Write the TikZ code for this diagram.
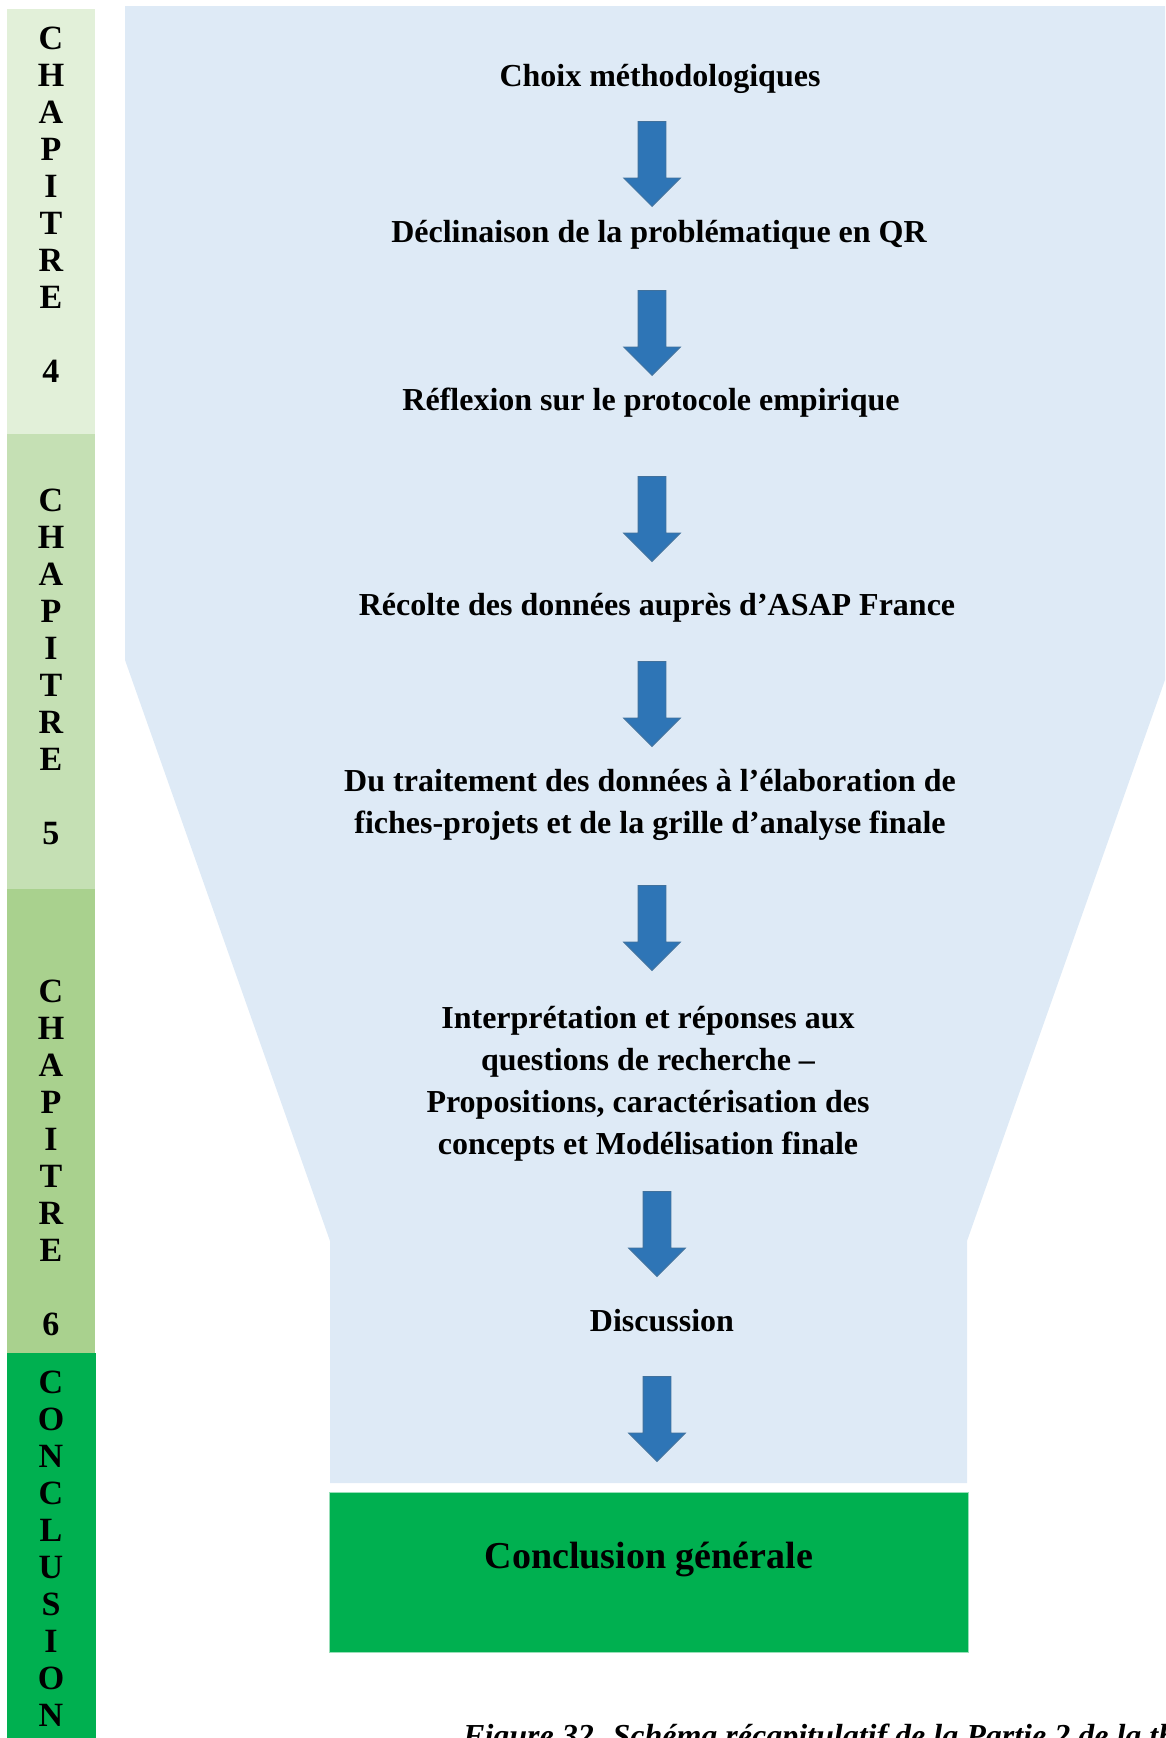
\documentclass[tikz,border=0pt]{standalone}
\usepackage{fontspec}
\setmainfont{Liberation Serif}
\usepackage{xcolor}
\usetikzlibrary{shapes.arrows}

\definecolor{funnelblue}{HTML}{DEEAF6}
\definecolor{arrowblue}{HTML}{2E75B6}
\definecolor{arrowedge}{HTML}{41719C}
\definecolor{chapfour}{HTML}{E2F0D9}
\definecolor{chapfive}{HTML}{C5E0B4}
\definecolor{chapsix}{HTML}{A9D18E}
\definecolor{conclgreen}{HTML}{00B050}

\begin{document}
\begin{tikzpicture}[x=1pt,y=-1pt,
    steptext/.style={font=\bfseries\fontsize{32}{42}\selectfont, align=center, inner sep=0},
    sidetext/.style={font=\bfseries\fontsize{34}{37}\selectfont, align=center, inner sep=0, anchor=north},
    downarrow/.style={single arrow, shape border rotate=270, fill=arrowblue, draw=arrowedge,
        line width=0.8pt, minimum height=85, minimum width=56, single arrow head extend=14.5,
        single arrow head indent=0, inner sep=13.5, anchor=tip},
    conclbox/.style={fill=conclgreen, draw=conclgreen!40, line width=0.8pt,
        minimum width=639, minimum height=160, inner sep=0}]
    \def\midx{648.5}

    \useasboundingbox (0,0) rectangle (1165,1738);
    \clip (0,0) rectangle (1165,1738);

    \fill[chapfour] (7,9) rectangle (95,434);
    \fill[chapfive] (7,434) rectangle (95,889);
    \fill[chapsix] (7,889) rectangle (95,1353);
    \fill[conclgreen] (7,1353) rectangle (96,1738);

    \node[sidetext] (chapfour) at (51,27) {C\\H\\A\\P\\I\\T\\R\\E\\[37pt]4};
    \node[sidetext] (chapfive) at (51,489) {C\\H\\A\\P\\I\\T\\R\\E\\[37pt]5};
    \node[sidetext] (chapsix) at (51,980) {C\\H\\A\\P\\I\\T\\R\\E\\[37pt]6};
    \node[sidetext] (conclu) at (51,1371) {C\\O\\N\\C\\L\\U\\S\\I\\O\\N};

    \fill[funnelblue] (125,6) -- (1172,6) -- (1172,660) -- (967,1241) -- (967,1483)
        -- (330,1483) -- (330,1241) -- (125,660) -- cycle;

    \node[steptext, anchor=base] (choix) at (660,86) {Choix méthodologiques};
    \node[steptext, anchor=base] (declin) at (659,242) {Déclinaison de la problématique en QR};
    \node[steptext, anchor=base] (reflex) at (651,410) {Réflexion sur le protocole empirique};
    \node[steptext, anchor=base] (recolte) at (657,615) {Récolte des données auprès d’ASAP France};
    \node[steptext] (traitement) at (650,805) {Du traitement des données à l’élaboration de\\fiches-projets et de la grille d’analyse finale};
    \node[steptext] (interp) at (648,1084) {Interprétation et réponses aux\\questions de recherche –\\Propositions, caractérisation des\\concepts et Modélisation finale};
    \node[steptext, anchor=base] (discussion) at (662,1331) {Discussion};

    \foreach \ax/\ay [count=\i] in {652/207, 652/376, 652/562, 652/747, 652/971, 657/1277, 657/1462}
        \node[downarrow] (arr\i) at (\ax,\ay) {};

    \node[conclbox] (conclusion) at (\midx,1572) {};
    \node[steptext, font=\bfseries\fontsize{38}{44}\selectfont, anchor=base] (concltext) at (649,1568) {Conclusion générale};

    \node[anchor=base west, inner sep=0, font=\bfseries\itshape\fontsize{32}{38}\selectfont] (caption) at (463,1746)
        {Figure 32. Schéma récapitulatif de la Partie 2 de la thèse};
\end{tikzpicture}
\end{document}
